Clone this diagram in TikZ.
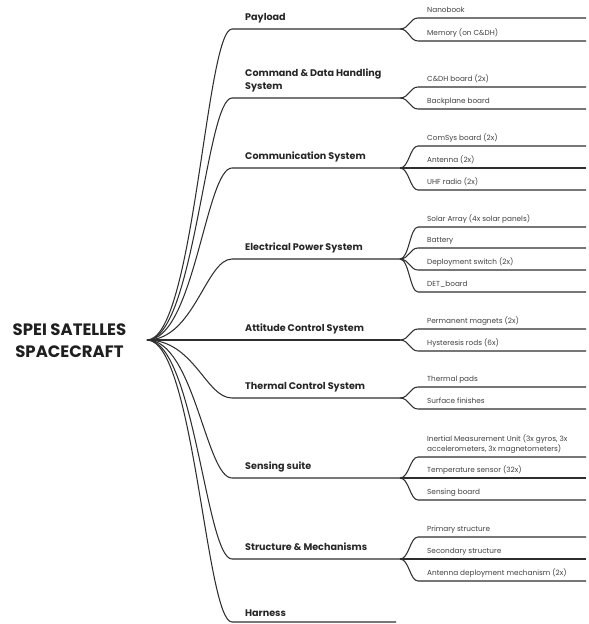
\documentclass[tikz,border=0pt]{standalone}
\usepackage{fontspec}
\setmainfont{Poppins}
\begin{document}
\begin{tikzpicture}[x=1pt,y=-1pt,
  wire/.style={draw=black!82,line width=1.05pt},
  br1/.style={out=0,in=180,out distance=47pt,in distance=26pt},
  br2/.style={out=0,in=180,out distance=9pt,in distance=8pt},
  rootlbl/.style={font=\fontsize{16.5}{22}\selectfont\bfseries,text=black!88,align=center,inner sep=0pt,anchor=base},
  lone/.style={font=\fontsize{9.6}{13}\selectfont\bfseries,text=black!85,align=left,inner sep=0pt,anchor=base west},
  ltwo/.style={font=\fontsize{7.3}{10}\selectfont,text=black!75,align=left,inner sep=0pt,anchor=base west}]
\useasboundingbox (0,0) rectangle (589,624);
% root
\node[rootlbl] (root) at (69.5,357) {SPEI SATELLES\\SPACECRAFT};
\coordinate (r) at (147,340);
% level-1 junctions: start (s), branch point (e)
\foreach \n/\y in {1/29,2/98,3/168,4/259,6/398,7/478,8/559}{
  \coordinate (s\n) at (232,\y);
  \coordinate (e\n) at (400,\y);
}
\coordinate (e5) at (400,340);
\coordinate (s9) at (232,622);
\coordinate (e9) at (396,622);
% level-1 connectors
\draw[wire] (r) to[br1] (s1) -- (e1);
\draw[wire] (r) to[br1] (s2) -- (e2);
\draw[wire] (r) to[br1] (s3) -- (e3);
\draw[wire] (r) to[br1] (s4) -- (e4);
\draw[wire] (r) -- (e5);
\draw[wire] (r) to[br1] (s6) -- (e6);
\draw[wire] (r) to[br1] (s7) -- (e7);
\draw[wire] (r) to[br1] (s8) -- (e8);
\draw[wire] (r) to[br1] (s9) -- (e9);
% level-1 labels
\node[lone] (l1) at (245,20) {Payload};
\node[lone] (l2) at (245,89) {Command \& Data Handling\\System};
\node[lone] (l3) at (245,159) {Communication System};
\node[lone] (l4) at (245,250) {Electrical Power System};
\node[lone] (l5) at (245,331) {Attitude Control System};
\node[lone] (l6) at (245,389) {Thermal Control System};
\node[lone] (l7) at (245,469) {Sensing suite};
\node[lone] (l8) at (245,550) {Structure \& Mechanisms};
\node[lone] (l9) at (245,616) {Harness};
% level-2 leaves
\foreach \p/\k/\y/\t in {
  1/a/18/Nanobook,
  1/b/41/Memory (on C\&DH),
  2/a/87/C\&DH board (2x),
  2/b/109/Backplane board,
  3/a/146/ComSys board (2x),
  3/b/168/Antenna (2x),
  3/c/190/UHF radio (2x),
  4/a/227/Solar Array (4x solar panels),
  4/b/248/Battery,
  4/c/270/Deployment switch (2x),
  4/d/292/DET\_board,
  5/a/329/Permanent magnets (2x),
  5/b/351/Hysteresis rods (6x),
  6/a/387/Thermal pads,
  6/b/409/Surface finishes,
  7/b/478/Temperature sensor (32x),
  7/c/500/Sensing board,
  8/a/537/Primary structure,
  8/b/559/Secondary structure,
  8/c/581/Antenna deployment mechanism (2x)}{
  \coordinate (c\p\k) at (418,\y);
  \coordinate (t\p\k) at (586,\y);
  \draw[wire] (e\p) to[br2] (c\p\k) -- (t\p\k);
  \node[ltwo] (n\p\k) at (427,\y-6) {\t};
}
\coordinate (c7a) at (418,457);
\coordinate (t7a) at (586,457);
\draw[wire] (e7) to[br2] (c7a) -- (t7a);
\node[ltwo] (n7a) at (427,451) {Inertial Measurement Unit (3x gyros, 3x\\accelerometers, 3x magnetometers)};
\end{tikzpicture}
\end{document}
